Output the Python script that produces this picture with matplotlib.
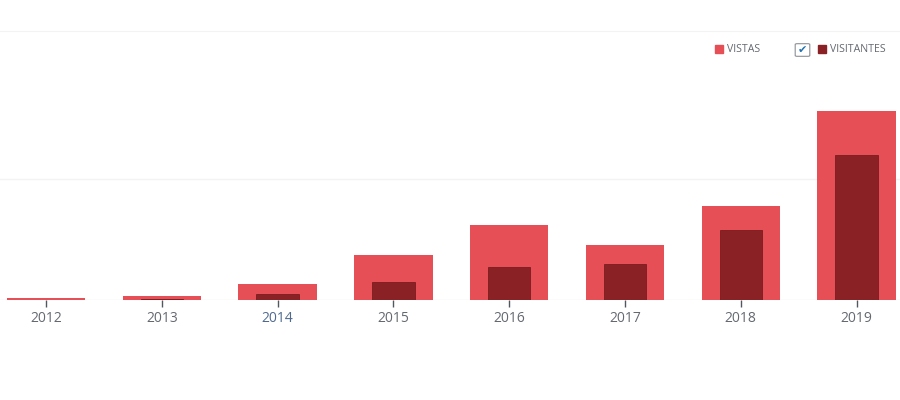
import matplotlib.pyplot as plt
from matplotlib.patches import FancyBboxPatch, Rectangle

# valores (escala estimada, línea guía en 1000)
years = ["2012", "2013", "2014", "2015", "2016", "2017", "2018", "2019"]
vistas = [17, 33, 135, 373, 621, 456, 779, 1566]
visitantes = [4, 8, 47, 149, 271, 298, 584, 1201]

color_vistas = "#e64f56"
color_visitantes = "#8a2124"
text_color = "#646970"

fig = plt.figure(figsize=(9, 4), dpi=100)
ax = fig.add_axes([0, 0.25, 1, 0.6725])

x = range(len(years))
ax.bar(x, vistas, width=0.676, color=color_vistas, zorder=2)
ax.bar(x, visitantes, width=0.366, color=color_visitantes,
       edgecolor="#7a1c1f", linewidth=0.6, zorder=3)

ax.set_xlim(-0.397, 7.375)
ax.set_ylim(0, 2229)
ax.set_yticks([1000])
ax.yaxis.grid(True, color="#f3f3f3", linewidth=1, zorder=0)
ax.tick_params(axis="y", left=False, labelleft=False)
ax.axhline(0, color="#ececec", linewidth=1, zorder=1)
for s in ax.spines.values():
    s.set_visible(False)
ax.spines["top"].set_visible(True)
ax.spines["top"].set_color("#f3f3f3")

ax.set_xticks(list(x))
ax.set_xticklabels(years, fontsize=10, color=text_color, family="Open Sans")
ax.tick_params(axis="x", length=5, width=1, color="#50575e", pad=3)
ax.get_xticklabels()[2].set_color("#4f6a8f")

# leyenda
fig.patches.append(Rectangle((715 / 900, 1 - 53 / 400), 8 / 900, 8 / 400,
                             transform=fig.transFigure, color=color_vistas))
fig.text(727 / 900, 1 - 49 / 400, "VISTAS", fontsize=7.6, color=text_color,
         va="center", family="Open Sans")
fig.patches.append(FancyBboxPatch((797 / 900, 1 - 55.5 / 400), 11 / 900, 11 / 400,
                                  boxstyle="round,pad=0.002",
                                  transform=fig.transFigure, facecolor="white",
                                  edgecolor="#8c8f94", linewidth=0.8))
fig.text(802.5 / 900, 1 - 50 / 400, "\u2714", fontsize=8, color="#2271b1",
         ha="center", va="center", family="DejaVu Sans")
fig.patches.append(Rectangle((818 / 900, 1 - 53 / 400), 8 / 900, 8 / 400,
                             transform=fig.transFigure, color=color_visitantes))
fig.text(830 / 900, 1 - 49 / 400, "VISITANTES", fontsize=7.6, color=text_color,
         va="center", family="Open Sans")

fig.savefig("out.png", dpi=100, facecolor="white")
